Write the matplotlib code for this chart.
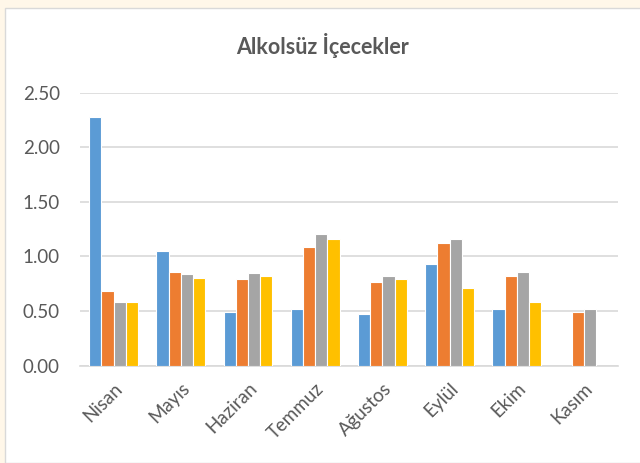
import matplotlib; matplotlib.use('Agg')
import matplotlib.pyplot as plt
import matplotlib.patches as mpatches
import numpy as np

plt.rcParams['font.family'] = ['Lato', 'DejaVu Sans']

TXT = '#595959'
BLUE, ORANGE, GRAY, YELLOW = '#5b9bd5', '#ed7d31', '#a5a5a5', '#ffc000'

months = ['Nisan', 'Mayıs', 'Haziran', 'Temmuz', 'Ağustos', 'Eylül', 'Ekim', 'Kasım']
s1 = [2.28, 1.05, 0.49, 0.52, 0.47, 0.93, 0.52, np.nan]
s2 = [0.68, 0.86, 0.79, 1.09, 0.77, 1.12, 0.82, 0.49]
s3 = [0.58, 0.84, 0.85, 1.21, 0.82, 1.16, 0.86, 0.52]
s4 = [0.58, 0.80, 0.82, 1.16, 0.79, 0.71, 0.58, np.nan]

fig = plt.figure(figsize=(6.4, 4.63), dpi=100, facecolor='#fff7e9')
# white chart area with thin border
fig.patches.append(mpatches.Rectangle((5 / 640, 0), 1, 1 - 8 / 463, transform=fig.transFigure,
                                      facecolor='white', edgecolor='#d9d9d9', lw=1, zorder=-5))

ax = fig.add_axes([80 / 640, 1 - 365.7 / 463, (617.7 - 80) / 640, (365.7 - 92.7) / 463])
ax.set_facecolor('white')
ax.set_zorder(2)

x = np.arange(len(months))
w = 0.182
for i, (vals, c) in enumerate(zip([s1, s2, s3, s4], [BLUE, ORANGE, GRAY, YELLOW])):
    ax.bar(x + (i - 1.5) * w, vals, w, color=c, edgecolor='white', linewidth=0.8, zorder=3)

ax.set_xlim(-0.5, len(months) - 0.5)
ax.set_ylim(0, 2.5)
ax.set_yticks(np.arange(0, 2.51, 0.5))
ax.set_yticklabels([f'{v:.2f}' for v in np.arange(0, 2.51, 0.5)])
ax.set_xticks(x)
ax.set_xticklabels(months, rotation=45, ha='right', rotation_mode='anchor')
ax.tick_params(axis='both', length=0, colors=TXT)
ax.tick_params(axis='y', pad=14.5, labelsize=13.5)
ax.tick_params(axis='x', pad=10, labelsize=13.5)
ax.grid(axis='y', color='#d9d9d9', lw=1.2, zorder=0)
for s in ['top', 'right', 'left']:
    ax.spines[s].set_visible(False)
ax.spines['bottom'].set_color('#d9d9d9')
ax.spines['bottom'].set_linewidth(1.2)

fig.text(0.5 + 2 / 640, 1 - 45 / 463, 'Alkolsüz İçecekler', ha='center', va='center',
         fontsize=15.5, fontweight='bold', color=TXT)

fig.savefig('out.png', facecolor=fig.get_facecolor())
